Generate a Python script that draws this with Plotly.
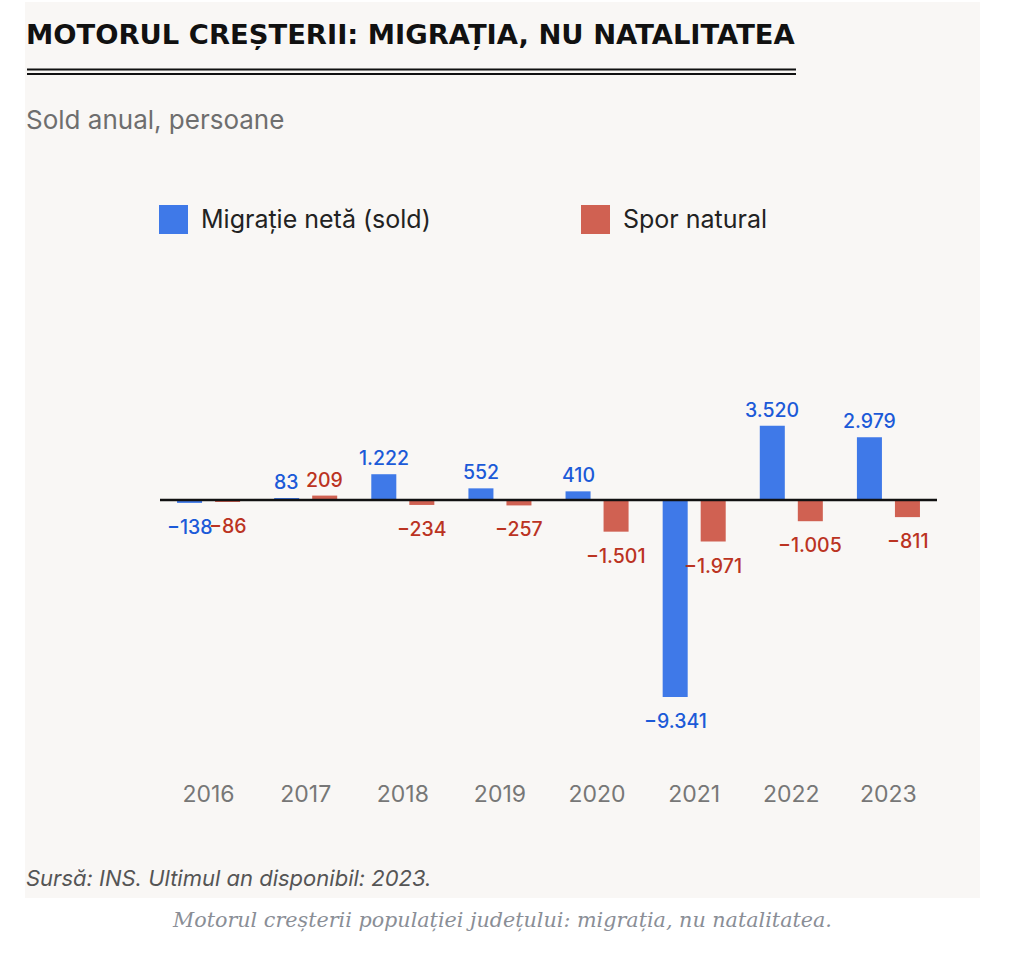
import plotly.graph_objects as go

years = [2016, 2017, 2018, 2019, 2020, 2021, 2022, 2023]
migratie = [-138, 83, 1222, 552, 410, -9341, 3520, 2979]
spor = [-86, 209, -234, -257, -1501, -1971, -1005, -811]

BLUE_BAR = "#3f79e8"
RED_BAR = "#d06152"
BLUE_TXT = "#1c5ad8"
RED_TXT = "#bb3322"
PANEL = "#f9f7f5"

W, H = 1024, 956
L, R, T, B = 160, 87, 240, 178
PW, PH = W - L - R, H - T - B
BARGAP, GROUPGAP = 0.217, 0.342


def px2x(px):
    return (px - L) / PW


def px2y(py):
    return (H - B - py) / PH


def fmt(v):
    s = f"{abs(v):,}".replace(",", ".")
    return ("\u2212" if v < 0 else "") + s


fig = go.Figure()
fig.add_trace(go.Bar(x=years, y=migratie, name="Migrație netă (sold)",
                     marker_color=BLUE_BAR, marker_line_width=0))
fig.add_trace(go.Bar(x=years, y=spor, name="Spor natural",
                     marker_color=RED_BAR, marker_line_width=0))

k = 0.0211  # px per unit
ymax = (500 - T) / k
ymin = -((H - B) - 500) / k

annotations = []
off = (1 - BARGAP) / 4
for series, sign, col in ((migratie, -1, BLUE_TXT), (spor, 1, RED_TXT)):
    for yr, v in zip(years, series):
        pos = v >= 0
        annotations.append(dict(
            x=yr + sign * off, y=v, xref="x", yref="y", text=fmt(v),
            showarrow=False, xanchor="center",
            yanchor="bottom" if pos else "top",
            yshift=2 if pos else -10,
            font=dict(family="Inter", size=19.5, color=col, weight=500)))

FONT = "Inter"
annotations += [
    dict(x=px2x(24), y=px2y(35), xref="paper", yref="paper", xanchor="left", yanchor="middle",
         text="MOTORUL CREȘTERII: MIGRAȚIA, NU NATALITATEA", showarrow=False,
         font=dict(family="DejaVu Sans", size=27.4, color="#111111", weight="bold")),
    dict(x=px2x(24), y=px2y(120), xref="paper", yref="paper", xanchor="left", yanchor="middle",
         text="Sold anual, persoane", showarrow=False,
         font=dict(family=FONT, size=26, color="#6e6e6e")),
    dict(x=px2x(199), y=px2y(219), xref="paper", yref="paper", xanchor="left", yanchor="middle",
         text="Migrație netă (sold)", showarrow=False,
         font=dict(family=FONT, size=25, color="#222222")),
    dict(x=px2x(621), y=px2y(219), xref="paper", yref="paper", xanchor="left", yanchor="middle",
         text="Spor natural", showarrow=False,
         font=dict(family=FONT, size=25, color="#222222")),
    dict(x=px2x(24), y=px2y(878), xref="paper", yref="paper", xanchor="left", yanchor="middle",
         text="Sursă: INS. Ultimul an disponibil: 2023.", showarrow=False,
         font=dict(family=FONT, size=22, color="#555555", style="italic")),
    dict(x=px2x(502), y=px2y(920), xref="paper", yref="paper", xanchor="center", yanchor="middle",
         text="Motorul creșterii populației județului: migrația, nu natalitatea.", showarrow=False,
         font=dict(family="DejaVu Serif", size=20.7, color="#8a8e96", style="italic")),
]

shapes = [
    dict(type="rect", xref="paper", yref="paper", x0=px2x(25), x1=px2x(980),
         y0=px2y(898), y1=px2y(2), fillcolor=PANEL, line_width=0, layer="below"),
    dict(type="line", xref="paper", yref="paper", x0=px2x(27), x1=px2x(796),
         y0=px2y(69.5), y1=px2y(69.5), line=dict(color="#111111", width=2)),
    dict(type="line", xref="paper", yref="paper", x0=px2x(27), x1=px2x(796),
         y0=px2y(74), y1=px2y(74), line=dict(color="#111111", width=2)),
    dict(type="rect", xref="paper", yref="paper", x0=px2x(159), x1=px2x(188),
         y0=px2y(234), y1=px2y(205), fillcolor=BLUE_BAR, line_width=0),
    dict(type="rect", xref="paper", yref="paper", x0=px2x(581), x1=px2x(610),
         y0=px2y(234), y1=px2y(205), fillcolor=RED_BAR, line_width=0),
    dict(type="line", xref="paper", yref="y", x0=0, x1=1, y0=0, y1=0,
         line=dict(color="#111111", width=2.5), layer="above"),
]

fig.update_layout(
    width=W, height=H,
    margin=dict(l=L, r=R, t=T, b=B),
    paper_bgcolor="white", plot_bgcolor="rgba(0,0,0,0)",
    barmode="group", bargap=BARGAP, bargroupgap=GROUPGAP,
    showlegend=False,
    annotations=annotations, shapes=shapes,
    xaxis=dict(range=[years[0] - 0.5, years[-1] + 0.5], tickmode="array",
               tickvals=years, ticktext=[str(y) for y in years],
               showgrid=False, zeroline=False, showline=False, ticks="",
               tickfont=dict(family=FONT, size=23, color="#777777")),
    yaxis=dict(range=[ymin, ymax], showgrid=False, zeroline=False,
               showticklabels=False, showline=False, ticks=""),
)

fig.write_html("out.html")
